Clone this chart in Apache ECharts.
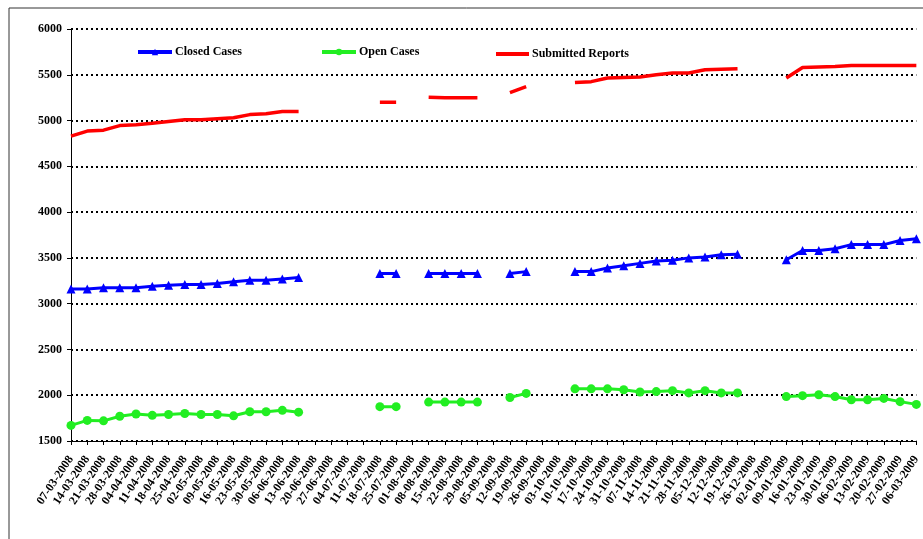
<!DOCTYPE html>
<html><head><meta charset="utf-8">
<script src="https://cdn.jsdelivr.net/npm/echarts@6/dist/echarts.min.js"></script>
<style>html,body{margin:0;padding:0;background:#fff}#c{width:923px;height:539px}</style>
</head><body><div id="c"></div>
<script>
const categories = ['07-03-2008','14-03-2008','21-03-2008','28-03-2008','04-04-2008','11-04-2008','18-04-2008','25-04-2008','02-05-2008','09-05-2008','16-05-2008','23-05-2008','30-05-2008','06-06-2008','13-06-2008','20-06-2008','27-06-2008','04-07-2008','11-07-2008','18-07-2008','25-07-2008','01-08-2008','08-08-2008','15-08-2008','22-08-2008','29-08-2008','05-09-2008','12-09-2008','19-09-2008','26-09-2008','03-10-2008','10-10-2008','17-10-2008','24-10-2008','31-10-2008','07-11-2008','14-11-2008','21-11-2008','28-11-2008','05-12-2008','12-12-2008','19-12-2008','26-12-2008','02-01-2009','09-01-2009','16-01-2009','23-01-2009','30-01-2009','06-02-2009','13-02-2009','20-02-2009','27-02-2009','06-03-2009'];
const closedCases = [3160,3160,3175,3175,3175,3190,3200,3210,3210,3220,3240,3255,3255,3270,3285,null,null,null,null,3330,3330,null,3330,3330,3330,3330,null,3330,3350,null,null,3350,3350,3390,3415,3440,3465,3475,3500,3510,3535,3540,null,null,3480,3580,3580,3600,3645,3645,3645,3690,3710];
const openCases = [1670,1725,1720,1770,1795,1780,1790,1800,1790,1790,1775,1820,1820,1835,1815,null,null,null,null,1875,1875,null,1925,1925,1925,1925,null,1975,2020,null,null,2070,2070,2070,2060,2035,2040,2050,2025,2050,2025,2025,null,null,1985,1995,2005,1985,1950,1950,1965,1930,1900];
const submittedReports = [4830,4885,4895,4945,4955,4970,4990,5010,5010,5020,5030,5065,5075,5100,5100,null,null,null,null,5200,5200,null,5255,5250,5250,5250,null,5305,5370,null,null,5415,5425,5465,5470,5475,5500,5520,5520,5555,5560,5565,null,null,5465,5580,5585,5590,5600,5600,5600,5600,5600];
const yTicks = {min:1500, max:6000, interval:500};

const serif = '"Liberation Serif","Times New Roman",serif';
const chart = echarts.init(document.getElementById('c'), null, {renderer:'canvas'});
const legendText = {fontFamily: serif, fontWeight:'bold', fontSize:12, color:'#000', padding:[0,0,0,-2]};
chart.setOption({
  animation:false,
  backgroundColor:'#fff',
  graphic:[{type:'rect', shape:{x:9,y:8,width:930,height:545}, style:{fill:'none', stroke:'#333', lineWidth:1}, silent:true, z:-1}],
  grid:{left:71, right:4, top:29, bottom:98, containLabel:false},
  legend:[
    {data:['Closed Cases'], left:136, top:46, itemWidth:34, itemHeight:8, lineStyle:{width:4}, textStyle:legendText, padding:0},
    {data:['Open Cases'], left:320, top:46, itemWidth:34, itemHeight:8, lineStyle:{width:4}, textStyle:legendText, padding:0},
    {data:[{name:'Submitted Reports', icon:'rect'}], left:496, top:48, itemWidth:33, itemHeight:4, textStyle:legendText, padding:0}
  ],
  xAxis:{
    type:'category', data:categories, boundaryGap:false,
    axisLine:{lineStyle:{color:'#000', width:1}},
    axisTick:{show:true, length:4, interval:0, lineStyle:{color:'#000'}},
    axisLabel:{interval:0, rotate:56, margin:16, fontFamily:serif, fontWeight:'bold', fontSize:12, color:'#000'},
    splitLine:{show:false}
  },
  yAxis:{
    type:'value', min:yTicks.min, max:yTicks.max, interval:yTicks.interval,
    axisLine:{show:true, lineStyle:{color:'#000', width:1}},
    axisTick:{show:true, length:4, lineStyle:{color:'#000'}},
    axisLabel:{margin:9, fontFamily:serif, fontWeight:'bold', fontSize:12, color:'#000', formatter: v => String(v)},
    splitLine:{show:true, lineStyle:{color:'#000', width:2, type:[2,3]}}
  },
  series:[
    {name:'Closed Cases', type:'line', data:closedCases, connectNulls:false, color:'#0000ff',
     symbol:'triangle', symbolSize:9, lineStyle:{width:3, color:'#0000ff'}, itemStyle:{color:'#0000ff'}, z:3},
    {name:'Open Cases', type:'line', data:openCases, connectNulls:false, color:'#22ee22',
     symbol:'circle', symbolSize:9, lineStyle:{width:3, color:'#22ee22'}, itemStyle:{color:'#22ee22'}, z:3},
    {name:'Submitted Reports', type:'line', data:submittedReports, connectNulls:false, color:'#ff0000',
     showSymbol:false, symbol:'none', lineStyle:{width:3.5, color:'#ff0000'}, itemStyle:{color:'#ff0000'}, z:3}
  ]
});
</script></body></html>
